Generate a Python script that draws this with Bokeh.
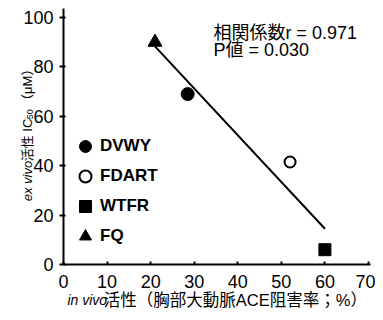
import numpy as np
from bokeh.plotting import figure
from bokeh.models import Label, Legend, LegendItem, Range1d, FixedTicker
from bokeh.core.properties import value
from bokeh.embed import file_html
from bokeh.resources import INLINE

# ---- data ----
names = ["DVWY", "FDART", "WTFR", "FQ"]
in_vivo = [28.5, 52.0, 60.0, 21.0]        # % inhibition
ic50 = [69.0, 41.5, 6.0, 90.0]            # µM
markers = ["circle", "circle", "square", "triangle"]
fills = ["black", "white", "black", "black"]
x_ticks = [0, 10, 20, 30, 40, 50, 60, 70]
y_ticks = [0, 20, 40, 60, 80, 100]
r_text = "相関係数r = 0.971"
p_text = "P値 = 0.030"
x_label_it = "in vivo"
x_label_rest = "活性（胸部大動脈ACE阻害率；%）"
y_label_it = "ex vivo"
y_label_mid = "活性 IC"
y_label_sub = "50"
y_label_end = "（μM）"

FONT = "Liberation Sans, Noto Sans CJK JP"

p = figure(width=375, height=312, output_backend="svg", toolbar_location=None,
           x_range=Range1d(-14.46, 71.61), y_range=Range1d(-19.43, 106.88),
           min_border_left=0, min_border_right=0, min_border_top=0, min_border_bottom=0)
p.outline_line_color = None
p.grid.grid_line_color = None
p.background_fill_color = "white"

for ax in (p.xaxis[0], p.yaxis[0]):
    ax.axis_line_width = 2
    ax.axis_line_color = "black"
    ax.major_tick_line_width = 2
    ax.major_tick_line_color = "black"
    ax.minor_tick_line_color = None
    ax.major_label_text_font = FONT
    ax.major_label_text_font_size = "18px"
    ax.major_label_text_color = "black"
    ax.fixed_location = 0

p.xaxis.bounds = (0, 70.4)
p.yaxis.bounds = (0, 103.6)
p.xaxis.ticker = FixedTicker(ticks=x_ticks)
p.yaxis.ticker = FixedTicker(ticks=y_ticks)
p.xaxis.major_tick_in = 3
p.xaxis.major_tick_out = 0
p.xaxis.major_label_standoff = 10
p.yaxis.major_tick_in = 2
p.yaxis.major_tick_out = 4
p.yaxis.major_label_standoff = 6

# regression line computed from the data
slope, intercept = np.polyfit(in_vivo, ic50, 1)
xs = np.array([min(in_vivo), max(in_vivo)])
p.line(xs, slope * xs + intercept, line_color="black", line_width=2)

items = []
sizes = {"circle": 13, "square": 12, "triangle": 14}
for n, xv, yv, m, f in zip(names, in_vivo, ic50, markers, fills):
    if f == "white":
        r = p.scatter([xv], [yv], marker=m, size=11, fill_color="white",
                      line_color="black", line_width=2)
    else:
        r = p.scatter([xv], [yv], marker=m, size=sizes[m], fill_color="black",
                      line_color="black", line_width=1)
    items.append(LegendItem(label=n, renderers=[r]))

legend = Legend(items=items, location=(70, 61), orientation="vertical",
                background_fill_alpha=0, border_line_alpha=0, padding=0, margin=0,
                glyph_width=30, glyph_height=30, label_height=30, spacing=0,
                label_standoff=0, label_text_font=FONT, label_text_font_size="17px",
                label_text_font_style="bold", label_text_color="black")
p.add_layout(legend)

# correlation text
p.add_layout(Label(x=34.4, y=93.8, text=r_text, text_font=FONT, text_font_size="18px",
                   text_baseline="middle", text_align="left", text_color="black"))
p.add_layout(Label(x=34.4, y=87.0, text=p_text, text_font=FONT, text_font_size="18px",
                   text_baseline="middle", text_align="left", text_color="black"))

# x axis label (mixed italic)
p.add_layout(Label(x=0.9, y=-14.2, text=x_label_it, text_font=FONT, text_font_size="14px",
                   text_font_style="italic", text_baseline="middle", text_align="left",
                   text_color="black"))
p.add_layout(Label(x=9.25, y=-14.2, text=x_label_rest, text_font=FONT, text_font_size="16.5px",
                   text_baseline="middle", text_align="left", text_color="black"))

# y axis label (rotated, mixed)
ang = np.pi / 2
yx = -8.3
p.add_layout(Label(x=yx, y=25.6, text=y_label_it, text_font=FONT, text_font_size="13px",
                   text_font_style="italic", text_baseline="middle", text_align="left",
                   angle=ang, text_color="black"))
p.add_layout(Label(x=yx, y=41.8, text=y_label_mid, text_font=FONT, text_font_size="13px",
                   text_baseline="middle", text_align="left", angle=ang, text_color="black"))
p.add_layout(Label(x=yx + 0.6, y=58.8, text=y_label_sub, text_font=FONT, text_font_size="9px",
                   text_baseline="middle", text_align="left", angle=ang, text_color="black"))
p.add_layout(Label(x=yx, y=63.8, text=y_label_end, text_font=FONT, text_font_size="13px",
                   text_baseline="middle", text_align="left", angle=ang, text_color="black"))

open("out.html", "w").write(file_html(p, INLINE))
